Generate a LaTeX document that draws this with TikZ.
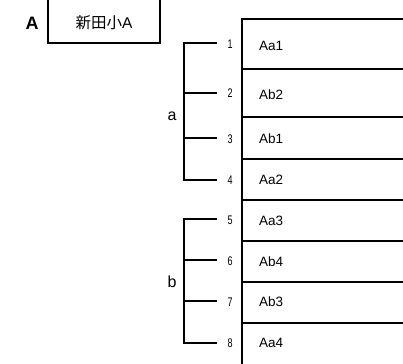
\documentclass[tikz,border=0pt]{standalone}
\usepackage{fontspec}
\usepackage{graphicx}
\setmainfont{Liberation Sans}
\newfontfamily\cjkfont{Noto Sans CJK JP}
\newcommand{\narrownum}[1]{\scalebox{0.72}[1]{#1}}
\begin{document}
\begin{tikzpicture}[x=1pt,y=-1pt,line width=2pt,
  cell/.style={anchor=west,font=\fontsize{13.5}{15}\selectfont,inner sep=0pt},
  num/.style={font=\fontsize{12.5}{14}\selectfont,inner sep=0pt},
  grp/.style={font=\fontsize{16}{18}\selectfont,inner sep=0pt}]
\useasboundingbox (0,0) rectangle (403,363);
% title box
\draw (48,-5) -- (48,43) -- (160,43) -- (160,-5);
\node[font=\fontsize{15.5}{17}\selectfont,inner sep=0pt] (title) at (104,23) {{\cjkfont 新田小}A};
\node[font=\bfseries\fontsize{18}{20}\selectfont,inner sep=0pt] (lblA) at (32,23) {A};
% table
\draw (410,19) -- (242,19) -- (242,368);
\foreach \y in {69,117,159,200,241,282,323} \draw (242,\y) -- (410,\y);
\node[cell] (c1) at (258,46) {Aa1};
\node[cell] (c2) at (258,95) {Ab2};
\node[cell] (c3) at (258,139) {Ab1};
\node[cell] (c4) at (258,180) {Aa2};
\node[cell] (c5) at (258,221) {Aa3};
\node[cell] (c6) at (258,262) {Ab4};
\node[cell] (c7) at (258,302) {Ab3};
\node[cell] (c8) at (258,343) {Aa4};
% numbers
\node[num] (n1) at (230,44) {\narrownum{1}};
\node[num] (n2) at (230,93) {\narrownum{2}};
\node[num] (n3) at (230,139) {\narrownum{3}};
\node[num] (n4) at (230,180) {\narrownum{4}};
\node[num] (n5) at (230,220) {\narrownum{5}};
\node[num] (n6) at (230,261) {\narrownum{6}};
\node[num] (n7) at (230,302) {\narrownum{7}};
\node[num] (n8) at (230,343) {\narrownum{8}};
% brackets
\coordinate (ta) at (184,43);
\coordinate (ba) at (184,180);
\coordinate (tb) at (184,219);
\coordinate (bb) at (184,343);
\draw (217,43) -| (ba) -- ++(33,0);
\draw (184,93) -- ++(33,0);
\draw (184,138) -- ++(33,0);
\draw (217,219) -| (bb) -- ++(33,0);
\draw (184,260) -- ++(33,0);
\draw (184,301) -- ++(33,0);
\node[grp] (ga) at (172,116) {a};
\node[grp] (gb) at (172,282) {b};
\end{tikzpicture}
\end{document}
